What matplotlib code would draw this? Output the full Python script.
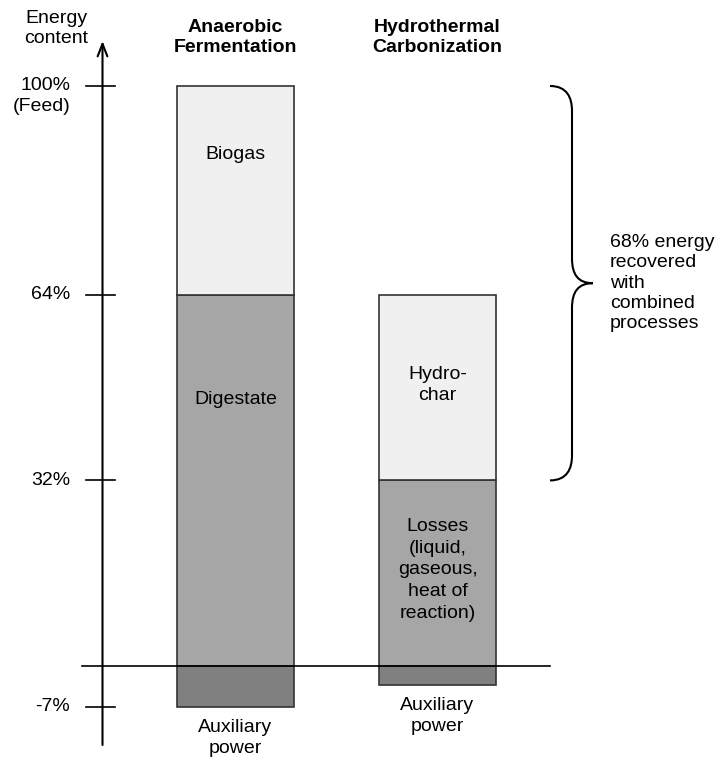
import matplotlib.pyplot as plt
from matplotlib.path import Path
from matplotlib.patches import PathPatch

plt.rcParams["font.family"] = ["Liberation Sans", "DejaVu Sans"]

# ── data ─────────────────────────────────────────────────────────
processes = ["Anaerobic\nFermentation", "Hydrothermal\nCarbonization"]
lower_part = [64, 32]          # digestate / losses
upper_part = [36, 32]          # biogas / hydrochar
auxiliary = [-7, -3.3]         # auxiliary power demand
lower_names = ["Digestate", "Losses\n(liquid,\ngaseous,\nheat of\nreaction)"]
upper_names = ["Biogas", "Hydro-\nchar"]
tick_values = [100, 64, 32, -7]
tick_labels = ["100%", "64%", "32%", "-7%"]
recovered = 68

# ── layout (x in pixels, y in percent of feed energy) ────────────
W, H = 721, 765
y0_px, px_per_pct = 666, 5.8
centers = [235.5, 437.5]
bar_w = 117
axis_x = 102.5


def pct(py):
    return (y0_px - py) / px_per_pct


fig = plt.figure(figsize=(W / 100, H / 100), dpi=100)
ax = fig.add_axes([0, 0, 1, 1])
ax.set_xlim(0, W)
ax.set_ylim(pct(H), pct(0))
ax.axis("off")

light, mid, dark, edge = "#f0f0f0", "#a6a6a6", "#808080", "#333333"
fs = 14

ax.bar(centers, lower_part, width=bar_w, color=mid, edgecolor=edge, lw=1.2, zorder=2)
ax.bar(centers, upper_part, bottom=lower_part, width=bar_w, color=light,
       edgecolor=edge, lw=1.2, zorder=2)
ax.bar(centers, auxiliary, width=bar_w, color=dark, edgecolor=edge, lw=1.2, zorder=2)

# zero line
ax.plot([82, 550], [0, 0], color="black", lw=1.2, zorder=3)

# vertical axis with open arrow head
ax.annotate("", xy=(axis_x, pct(41)), xytext=(axis_x, pct(745)),
            arrowprops=dict(arrowstyle="->,head_length=0.9,head_width=0.35",
                            color="black", lw=1.5, shrinkA=0, shrinkB=0))
for v, lab in zip(tick_values, tick_labels):
    ax.plot([86, 115], [v, v], color="black", lw=1.2)
    ax.text(70, v, lab, ha="right", va="center", fontsize=fs)
ax.text(70, tick_values[0] - 3.5, "(Feed)", ha="right", va="center", fontsize=fs)
ax.text(56, pct(28.5), "Energy\ncontent", ha="center", va="center",
        fontsize=fs, linespacing=1.3)

# column headers
for x, name in zip(centers, processes):
    ax.text(x, pct(37.5), name, ha="center", va="center", fontsize=fs,
            fontweight="bold", linespacing=1.2)

# segment labels
upper_y = [pct(155), pct(385)]
lower_y = [pct(400), pct(570)]
aux_y = [pct(738), pct(716)]
for i, x in enumerate(centers):
    ax.text(x, upper_y[i], upper_names[i], ha="center", va="center",
            fontsize=fs, linespacing=1.3, zorder=4)
    ax.text(x, lower_y[i], lower_names[i], ha="center", va="center",
            fontsize=fs, linespacing=1.35, zorder=4)
    ax.text(x, aux_y[i], "Auxiliary\npower", ha="center", va="center",
            fontsize=fs, linespacing=1.3)

# curly brace spanning the recovered energy
top, bot = 100, 100 - recovered
mid_y = (top + bot) / 2
xs, xv, xt = 550, 572, 593
c = 4.3
verts = [(xs, top), (567, top), (xv, top - 2), (xv, top - c),
         (xv, mid_y + c),
         (xv, mid_y + 1.5), (578, mid_y), (xt, mid_y),
         (578, mid_y), (xv, mid_y - 1.5), (xv, mid_y - c),
         (xv, bot + c),
         (xv, bot + 2), (567, bot), (xs, bot)]
codes = [Path.MOVETO, Path.CURVE4, Path.CURVE4, Path.CURVE4,
         Path.LINETO,
         Path.CURVE4, Path.CURVE4, Path.CURVE4,
         Path.CURVE4, Path.CURVE4, Path.CURVE4,
         Path.LINETO,
         Path.CURVE4, Path.CURVE4, Path.CURVE4]
ax.add_patch(PathPatch(Path(verts, codes), fill=False, lw=1.5, color="black"))
ax.text(610, mid_y, f"{recovered}% energy\nrecovered\nwith\ncombined\nprocesses",
        ha="left", va="center", fontsize=fs, linespacing=1.25)

plt.savefig("out.png", dpi=100)
